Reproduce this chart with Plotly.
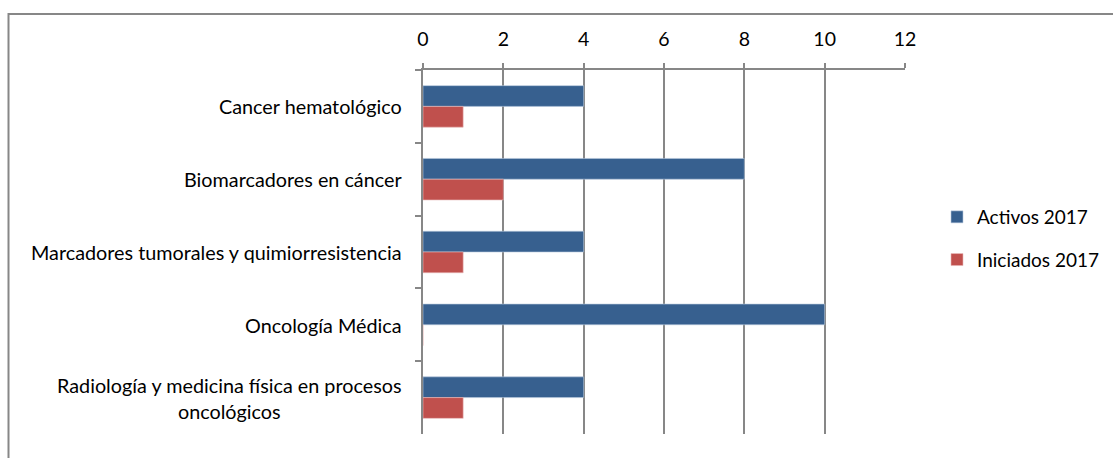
import plotly.graph_objects as go

categories = [
    "Cancer hematológico",
    "Biomarcadores en cáncer",
    "Marcadores tumorales y quimiorresistencia",
    "Oncología Médica",
    "Radiología y medicina física en procesos<br>oncológicos",
]
activos_2017 = [4, 8, 4, 10, 4]
iniciados_2017 = [1, 2, 1, 0, 1]
x_ticks = [0, 2, 4, 6, 8, 10, 12]

FONT = "Lato, 'Open Sans', sans-serif"
FS = 19.5
BLUE = "#37608F"
RED = "#C0504D"
GRID = "#878787"

fig = go.Figure()
fig.add_trace(go.Bar(
    y=categories, x=activos_2017, orientation="h", name="Activos 2017",
    marker=dict(color=BLUE, line=dict(color="#B9C9DD", width=0.6)),
    legendgroup="a",
))
fig.add_trace(go.Bar(
    y=categories, x=iniciados_2017, orientation="h", name="Iniciados 2017",
    marker=dict(color=RED, line=dict(color="#E8B9B8", width=0.6)),
    legendgroup="b",
))

L, R, T, B = 423, 905, 70, 434
W, H = 1113, 458
pw, ph = R - L, B - T

for c in categories:
    fig.add_annotation(
        x=-19 / pw, xref="paper", y=c, yref="y", text=c, showarrow=False,
        xanchor="right", align="center", font=dict(family=FONT, size=19.8, color="#000000"),
    )

# outer chart border
fig.add_shape(
    type="rect", xref="paper", yref="paper",
    x0=(8.5 - L) / pw, x1=(1116 - L) / pw, y0=(B - 470) / ph, y1=(B - 14) / ph,
    line=dict(color=GRID, width=2), fillcolor="rgba(0,0,0,0)", layer="below",
)

fig.update_layout(
    width=W, height=H,
    margin=dict(l=L, r=W - R, t=T, b=H - B, pad=0, autoexpand=False),
    paper_bgcolor="white", plot_bgcolor="white",
    barmode="group", bargap=0.43, bargroupgap=0,
    font=dict(family=FONT, size=FS, color="#000000"),
    showlegend=True,
    legend=dict(
        xref="container", yref="container",
        x=937 / W, xanchor="left", y=(H - 238.5) / H, yanchor="middle",
        font=dict(family=FONT, size=19), tracegroupgap=15,
        bgcolor="rgba(0,0,0,0)",
    ),
    xaxis=dict(
        side="top", range=[0, 12], tickvals=x_ticks, ticktext=[str(v) for v in x_ticks],
        showgrid=True, gridcolor=GRID, gridwidth=1.5,
        showline=True, linecolor=GRID, linewidth=1.5,
        ticks="outside", ticklen=5, tickcolor=GRID, tickwidth=1.5,
        ticklabelstandoff=9, zeroline=False,
        tickfont=dict(family=FONT, size=FS),
    ),
    yaxis=dict(
        autorange="reversed", showticklabels=False,
        showline=True, linecolor=GRID, linewidth=1.5,
        ticks="outside", ticklen=6, tickcolor=GRID, tickwidth=1.5,
        tickson="boundaries", showgrid=False,
    ),
)

fig.write_html(
    "out.html",
    config={"displayModeBar": False},
    post_script="document.body.style.margin='0';document.body.style.overflow='hidden';",
)
